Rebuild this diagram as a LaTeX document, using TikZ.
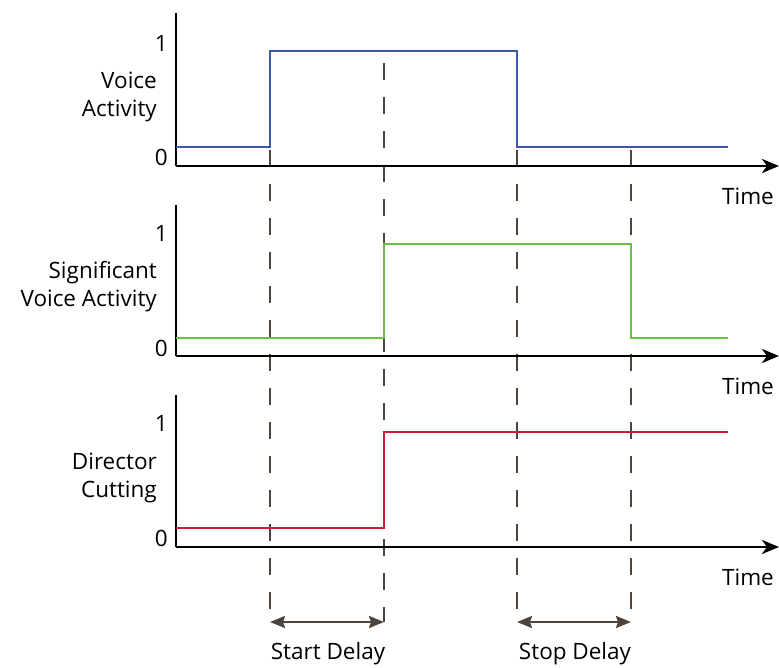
\documentclass[tikz,border=0pt]{standalone}
\usepackage{fontspec}
\setmainfont{Open Sans}
\usetikzlibrary{arrows.meta}
\definecolor{vablue}{RGB}{62,88,168}
\definecolor{svagreen}{RGB}{112,190,72}
\definecolor{dcred}{RGB}{200,32,50}
\definecolor{guide}{RGB}{78,68,62}
\tikzset{
  axisline/.style={line width=2.8pt,black},
  axisarrow/.style={axisline,-{Stealth[length=17pt,width=14pt,inset=5pt]}},
  signal/.style={line width=2.4pt},
  guideline/.style={line width=2pt,guide,dash pattern=on 17pt off 17pt},
  delay/.style={line width=2.2pt,guide,{Stealth[length=15pt,width=12pt,inset=2pt]}-{Stealth[length=15pt,width=12pt,inset=2pt]}},
  lbl/.style={font=\fontsize{22.5pt}{28pt}\selectfont,inner sep=0pt,align=center},
  ylbl/.style={lbl,anchor=east,align=right},
}
\begin{document}
\begin{tikzpicture}[x=1pt,y=-1pt]
\useasboundingbox (0,0) rectangle (779,668);

% guide lines marking the switching instants
\coordinate (g1t) at (270,150); \coordinate (g1b) at (270,622);
\coordinate (g2t) at (384,63);  \coordinate (g2b) at (384,622);
\coordinate (g3t) at (517,150); \coordinate (g3b) at (517,622);
\coordinate (g4t) at (631,150); \coordinate (g4b) at (631,622);
\draw[guideline] (g1t) -- (g1b);
\draw[guideline] (g2t) -- (g2b);
\draw[guideline] (g3t) -- (g3b);
\draw[guideline] (g4t) -- (g4b);

% panel 1: voice activity
\coordinate (a1top) at (176,13); \coordinate (a1o) at (176,166); \coordinate (a1end) at (779,166);
\draw[axisline] (a1top) -- (a1o);
\draw[axisarrow] (a1o) -- (a1end);
\draw[signal,vablue] (176,147) -- (270,147) -- (270,51) -- (517,51) -- (517,147) -- (728,147);
\node[ylbl] (one1) at (168,43) {1};
\node[ylbl] (zero1) at (168,157) {0};
\node[ylbl] (va) at (157,97) {Voice\\Activity};
\node[lbl] (t1) at (748,196) {Time};

% panel 2: significant voice activity
\coordinate (a2top) at (176,205); \coordinate (a2o) at (176,356); \coordinate (a2end) at (779,356);
\draw[axisline] (a2top) -- (a2o);
\draw[axisarrow] (a2o) -- (a2end);
\draw[signal,svagreen] (176,338) -- (384,338) -- (384,244) -- (631,244) -- (631,338) -- (728,338);
\node[ylbl] (one2) at (168,233) {1};
\node[ylbl] (zero2) at (168,348) {0};
\node[ylbl] (sva) at (157,287) {Significant\\Voice Activity};
\node[lbl] (t2) at (748,386) {Time};

% panel 3: director cutting
\coordinate (a3top) at (176,395); \coordinate (a3o) at (176,547); \coordinate (a3end) at (779,547);
\draw[axisline] (a3top) -- (a3o);
\draw[axisarrow] (a3o) -- (a3end);
\draw[signal,dcred] (176,528) -- (384,528) -- (384,432) -- (728,432);
\node[ylbl] (one3) at (168,423) {1};
\node[ylbl] (zero3) at (168,538) {0};
\node[ylbl] (dc) at (157,478) {Director\\Cutting};
\node[lbl] (t3) at (748,577) {Time};

% delay spans
\draw[delay] (g1b) -- (g2b);
\draw[delay] (g3b) -- (g4b);
\node[lbl] (sd) at (328,654) {Start Delay};
\node[lbl] (pd) at (575,654) {Stop Delay};
\end{tikzpicture}
\end{document}
